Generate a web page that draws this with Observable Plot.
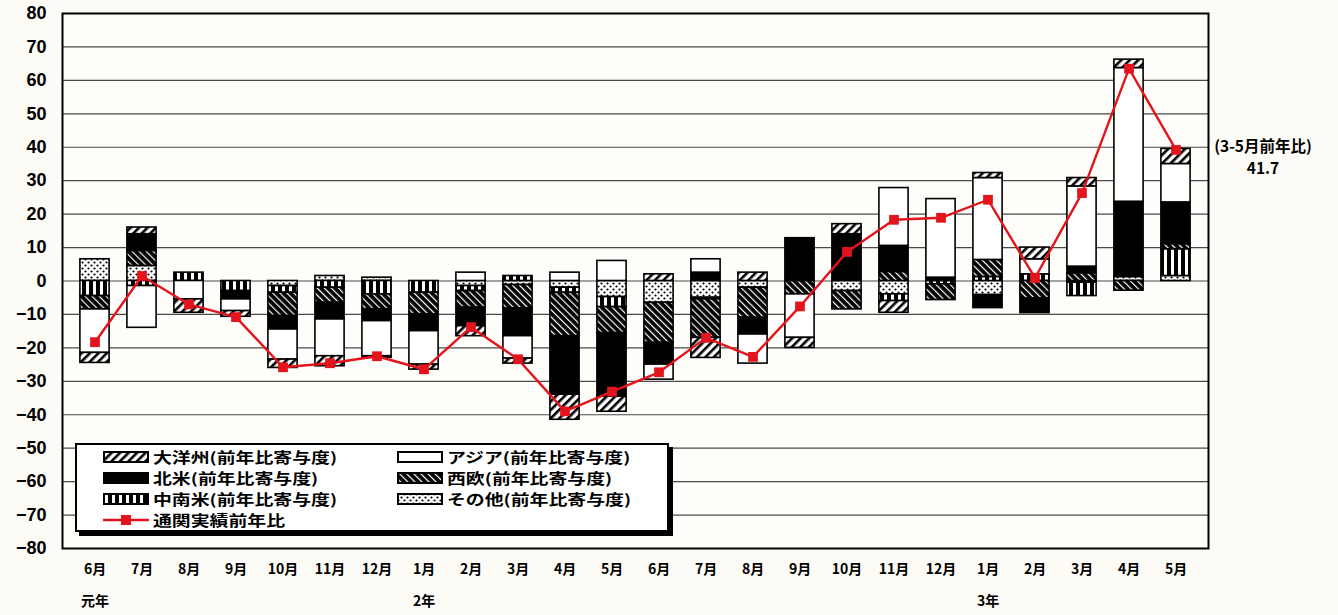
<!DOCTYPE html>
<html><head><meta charset="utf-8">
<script src="https://cdn.jsdelivr.net/npm/d3@7"></script>
<script src="https://cdn.jsdelivr.net/npm/@observablehq/plot@0.6"></script>
<style>
html,body{margin:0;padding:0;background:#fcfbf6;}
#wrap{position:relative;width:1338px;height:615px;overflow:hidden;}
#legend{position:absolute;left:75px;top:443px;width:590px;height:85px;background:#fff;border:2px solid #000;box-shadow:4px 4px 0 #000;font-family:"Noto Sans CJK JP",sans-serif;font-weight:700;font-size:14.3px;color:#000;}
.item{position:absolute;display:flex;align-items:center;height:21px;line-height:21px;white-space:nowrap;}
.item svg{margin-right:4px;flex:none;}
.item span{display:inline-block;transform:scaleX(1.32);transform-origin:0 50%;}
</style></head><body>
<svg width="0" height="0" style="position:absolute">
<defs>
<pattern id="p-oce" patternUnits="userSpaceOnUse" width="6" height="6" patternTransform="rotate(45)">
<rect width="6" height="6" fill="#fff"/><rect width="2.6" height="6" fill="#000"/></pattern>
<pattern id="p-weu" patternUnits="userSpaceOnUse" width="5" height="5" patternTransform="rotate(-45)">
<rect width="5" height="5" fill="#000"/><rect width="1.2" height="5" fill="#fff"/></pattern>
<pattern id="p-lat" patternUnits="userSpaceOnUse" width="7" height="7">
<rect width="7" height="7" fill="#000"/><rect x="2" width="3" height="7" fill="#fff"/></pattern>
<pattern id="p-oth" patternUnits="userSpaceOnUse" width="6" height="6">
<rect width="6" height="6" fill="#fff"/><circle cx="1.5" cy="1.5" r="1.1" fill="#000"/><circle cx="4.5" cy="4.5" r="1.1" fill="#000"/></pattern>
</defs></svg>
<div id="wrap"></div>
<script>
// Months (keys are unique; labels drop the year prefix)
const months = ["元年6月","元年7月","元年8月","元年9月","元年10月","元年11月","元年12月",
  "2年1月","2年2月","2年3月","2年4月","2年5月","2年6月","2年7月","2年8月","2年9月","2年10月","2年11月","2年12月",
  "3年1月","3年2月","3年3月","3年4月","3年5月"];
const yearLabels = [["元年6月","元年"],["2年1月","2年"],["3年1月","3年"]];

// Series names (stack order from zero outward) and legend order
const seriesNames = ["その他","中南米","西欧","北米","アジア","大洋州"];
const legendOrder = ["大洋州","アジア","北米","西欧","中南米","その他"];

// Contributions (前年比寄与度), percentage points
const other = [6.5,4.5,0,0,-1.5,1.5,1,0,-1.5,-1.2,-2,-4.8,-6.5,-5,-2,0,-3,-4,0,-4.2,0,-0.5,1.2,1.5];
const latam = [-4.5,-1.5,2.5,-3,-2,-2,-4,-3.5,-1.5,1.5,-1.5,-3,0,-0.5,0,0,0,-2,-1,1.2,2,-4,0,8];
const weu   = [-4,4.5,0,0,-7,-4.5,-4.5,-6.5,-5,-7,-13,-7.8,-12,-11.5,-9,-4,-5.5,2.7,-4.7,5.1,-5.2,2.3,-2.9,1.5];
const na    = [0,5,0,-2.5,-4,-5,-3.5,-5,-5.5,-8.3,-17.5,-19,-6.5,2.5,-5,12.8,14,7.8,1,-3.9,-4.4,2,22.5,12.5];
const asia  = [-13,-12.5,-5.5,-3.5,-9,-11,-10.5,-10,2.5,-6.7,2.5,6,-4.5,4,-8.7,-13,0,17.3,23.5,24.5,4.5,24,40,11.5];
const oce   = [-3,2,-4,-1.7,-2.5,-3,-0.5,-1.5,-3,-1.5,-7.5,-4.5,2,-6,2.5,-3,3,-3.5,0,1.5,3.5,2.5,2.5,4.5];
// 通関実績前年比 (%)
const total = [-18.3,1.5,-7,-10.8,-25.8,-24.6,-22.5,-26.4,-13.8,-23.4,-39,-33.1,-27.3,-17,-22.7,-7.6,8.7,18.3,18.9,24.3,0.9,26.3,63.5,39.2];
const yTicks = d3.range(-80, 81, 10);
const annotation = "(3-5月前年比)\n41.7";

const seriesData = {"その他": other, "中南米": latam, "西欧": weu, "北米": na, "アジア": asia, "大洋州": oce};
const fills = {"大洋州":"url(#p-oce)","アジア":"#fff","北米":"#000","西欧":"url(#p-weu)","中南米":"url(#p-lat)","その他":"url(#p-oth)"};

const rows = [];
months.forEach((m, i) => {
  seriesNames.forEach(s => {
    const v = seriesData[s][i];
    if (v !== 0) rows.push({month: m, series: s, value: v});
  });
});
const totals = months.map((m, i) => ({month: m, value: total[i]}));
const years = yearLabels.map(([m, t]) => ({month: m, label: t}));
const RED = "#e3141b";
const JP = "'Noto Sans CJK JP', sans-serif";

const chart = Plot.plot({
  width: 1338, height: 615,
  marginLeft: 62, marginRight: 130, marginTop: 13, marginBottom: 67,
  style: {background: "transparent", fontFamily: "'Liberation Sans', Arial, sans-serif", fontWeight: "bold", fontSize: "18px", color: "#000"},
  x: {type: "band", domain: months, padding: 0, label: null},
  y: {domain: [-80, 80], ticks: yTicks, label: null, tickSize: 0, tickPadding: 16},
  color: {domain: seriesNames, range: seriesNames.map(s => fills[s])},
  marks: [
    Plot.frame({fill: "#fefdf9"}),
    Plot.gridY(yTicks, {stroke: "#4a4a4a", strokeOpacity: 1, strokeWidth: 1.2}),
    Plot.barY(rows, {x: "month", y: "value", z: "series", fill: "series", stroke: "#000", strokeWidth: 1.6, order: seriesNames, insetLeft: 8.9, insetRight: 8.9}),
    Plot.line(totals, {x: "month", y: "value", stroke: RED, strokeWidth: 2.4}),
    Plot.dot(totals, {x: "month", y: "value", symbol: "square", r: 5.5, fill: RED}),
    Plot.frame({stroke: "#000", strokeWidth: 2}),
    Plot.axisX({tickSize: 0, tickPadding: 16, fontSize: 14, fontFamily: JP, tickFormat: d => d.replace(/^.*年/, "")}),
    Plot.text(years, {x: "month", frameAnchor: "bottom", dy: 57, text: "label", fontSize: 14, fontFamily: JP, fontWeight: "bold"}),
    Plot.text([{month: months[months.length - 1], value: total[total.length - 1]}],
      {x: "month", y: "value", text: () => annotation, dx: 87, dy: 6, lineHeight: 1.45, fontSize: 15.5, fontFamily: JP, fontWeight: "bold"})
  ]
});
const wrap = document.getElementById("wrap");
wrap.appendChild(chart);

// Legend (HTML overlay inside the plot area)
const legend = document.createElement("div");
legend.id = "legend";
const pos = [[0,0],[1,0],[0,1],[1,1],[0,2],[1,2]];
legendOrder.forEach((s, i) => {
  const [c, r] = pos[i];
  const it = document.createElement("div");
  it.className = "item";
  it.style.left = (c === 0 ? 26 : 320) + "px";
  it.style.top = (1 + r * 21) + "px";
  it.innerHTML = `<svg width="46" height="12"><rect x="1" y="1" width="44" height="10" fill="${fills[s]}" stroke="#000" stroke-width="2"/></svg><span>${s}(前年比寄与度)</span>`;
  legend.appendChild(it);
});
const li = document.createElement("div");
li.className = "item";
li.style.left = "26px"; li.style.top = (1 + 3 * 21) + "px";
li.innerHTML = `<svg width="46" height="12"><line x1="0" x2="46" y1="6" y2="6" stroke="${RED}" stroke-width="2.5"/><rect x="18" y="1" width="10" height="10" fill="${RED}"/></svg><span>通関実績前年比</span>`;
legend.appendChild(li);
wrap.appendChild(legend);
</script>
</body></html>
